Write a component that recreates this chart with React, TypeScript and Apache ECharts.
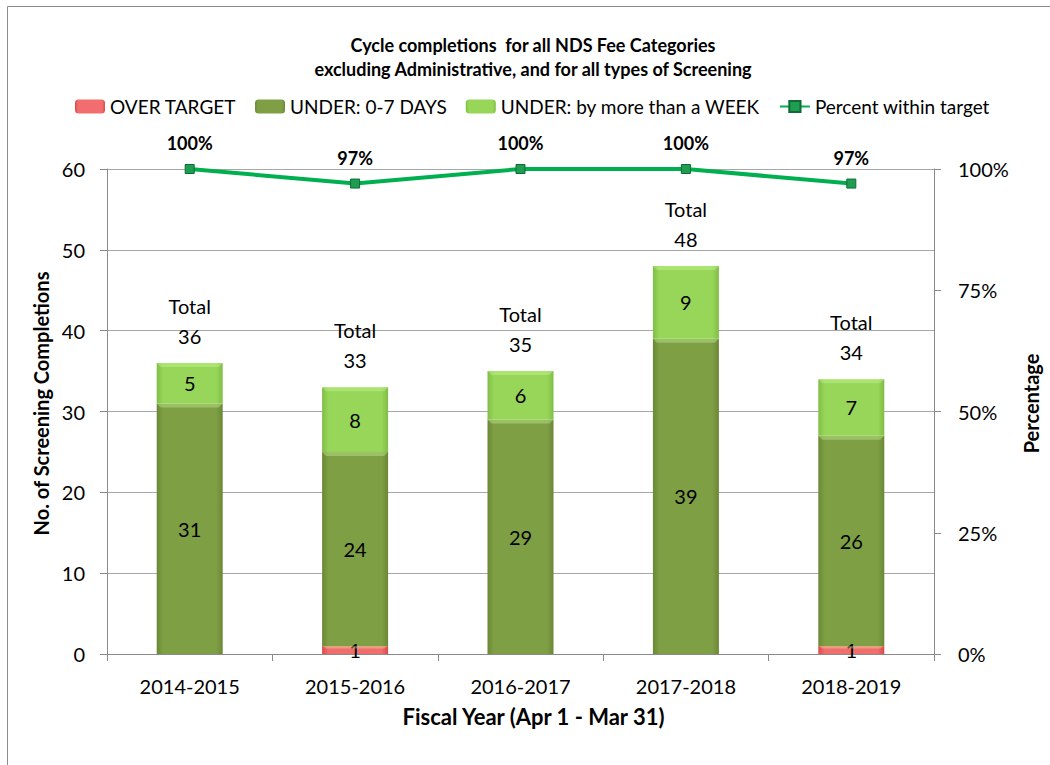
import React, { useEffect, useRef } from "react";
import * as echarts from "echarts";

const categories = ["2014-2015", "2015-2016", "2016-2017", "2017-2018", "2018-2019"];
const overTarget = [0, 1, 0, 0, 1];
const under07 = [31, 24, 29, 39, 26];
const underWeek = [5, 8, 6, 9, 7];
const pctWithin = [100, 97, 100, 100, 97];
const leftTicks = { min: 0, max: 60, interval: 10 };
const rightTicks = { min: 0, max: 100, interval: 25 };

const FONT = "Lato";
const BAR_W = 66;

function hGrad(edge: string, mid: string) {
  return new echarts.graphic.LinearGradient(0, 0, 1, 0, [
    { offset: 0, color: edge },
    { offset: 0.1, color: mid },
    { offset: 0.9, color: mid },
    { offset: 1, color: edge },
  ]);
}

export default function App() {
  const ref = useRef<HTMLDivElement>(null);
  useEffect(() => {
    document.body.style.margin = "0";
    const chart = echarts.init(ref.current!, null, { renderer: "svg" });
    const totals = categories.map((_, i) => overTarget[i] + under07[i] + underWeek[i]);
    // segment extents for the bevel overlay: [category, start, end]
    const segments: number[][] = [];
    categories.forEach((_, i) => {
      let base = 0;
      [overTarget[i], under07[i], underWeek[i]].forEach((v) => {
        if (v > 0) segments.push([i, base, base + v]);
        base += v;
      });
    });
    const segLabel = {
      show: true,
      position: "inside",
      color: "#000",
      fontFamily: FONT,
      fontSize: 20,
      formatter: (p: any) => (p.value ? String(p.value) : ""),
    };
    const barCommon = {
      type: "bar",
      stack: "s",
      barWidth: BAR_W,
      yAxisIndex: 0,
      label: segLabel,
    };
    chart.setOption({
      animation: false,
      textStyle: { fontFamily: FONT },
      graphic: [
        {
          type: "rect",
          shape: { x: 7.5, y: 6.5, width: 1100, height: 800 },
          style: { fill: "none", stroke: "#8c8c8c", lineWidth: 1 },
          silent: true,
        },
        {
          type: "text",
          x: 533,
          y: 45,
          style: {
            text: "Cycle completions  for all NDS Fee Categories",
            fontFamily: FONT,
            fontWeight: "bold",
            fontSize: 18,
            fill: "#000",
            align: "center",
            verticalAlign: "middle",
          },
        },
        {
          type: "text",
          x: 533,
          y: 69,
          style: {
            text: "excluding Administrative, and for all types of Screening",
            fontFamily: FONT,
            fontWeight: "bold",
            fontSize: 18,
            fill: "#000",
            align: "center",
            verticalAlign: "middle",
          },
        },
      ],
      legend: {
        top: 97,
        left: 75,
        padding: 0,
        itemWidth: 30,
        itemHeight: 14,
        itemGap: 19,
        textStyle: { fontFamily: FONT, fontSize: 19, color: "#000" },
        data: ["OVER TARGET", "UNDER: 0-7 DAYS", "UNDER: by more than a WEEK", "Percent within target"],
      },
      grid: { left: 107, right: 116, top: 169, bottom: 111 },
      xAxis: {
        type: "category",
        data: categories,
        axisLine: { lineStyle: { color: "#8a8a8a" } },
        axisTick: { show: true, length: 7, lineStyle: { color: "#8a8a8a" } },
        axisLabel: { color: "#000", fontFamily: FONT, fontSize: 20, margin: 22 },
        name: "Fiscal Year (Apr 1 - Mar 31)",
        nameLocation: "middle",
        nameGap: 51,
        nameTextStyle: { color: "#000", fontFamily: FONT, fontWeight: "bold", fontSize: 22, padding: [0, 0, 0, 26] },
      },
      yAxis: [
        {
          type: "value",
          ...leftTicks,
          axisLine: { show: true, lineStyle: { color: "#8a8a8a" } },
          axisTick: { show: true, length: 7, lineStyle: { color: "#8a8a8a" } },
          splitLine: { lineStyle: { color: "#a6a6a6" } },
          axisLabel: { color: "#000", fontFamily: FONT, fontSize: 20, margin: 22 },
          name: "No. of Screening Completions",
          nameLocation: "middle",
          nameRotate: 90,
          nameGap: 52,
          nameTextStyle: { color: "#000", fontFamily: FONT, fontWeight: "bold", fontSize: 20, padding: [0, 0, 0, 16] },
        },
        {
          type: "value",
          ...rightTicks,
          position: "right",
          axisLine: { show: true, lineStyle: { color: "#8a8a8a" } },
          axisTick: { show: true, length: 7, lineStyle: { color: "#8a8a8a" } },
          splitLine: { show: false },
          axisLabel: { color: "#000", fontFamily: FONT, fontSize: 20, margin: 24, formatter: "{value}%" },
          name: "Percentage",
          nameLocation: "middle",
          nameRotate: 90,
          nameGap: 87,
          nameTextStyle: { color: "#000", fontFamily: FONT, fontWeight: "bold", fontSize: 20, padding: [0, 0, 0, 16] },
        },
      ],
      series: [
        {
          ...barCommon,
          name: "OVER TARGET",
          data: overTarget,
          itemStyle: { color: hGrad("#d94a4a", "#f26e6e") },
        },
        {
          ...barCommon,
          name: "UNDER: 0-7 DAYS",
          data: under07,
          itemStyle: { color: hGrad("#6a8835", "#7f9f45") },
        },
        {
          ...barCommon,
          name: "UNDER: by more than a WEEK",
          data: underWeek,
          itemStyle: { color: hGrad("#80bd45", "#98d65a") },
        },
        {
          name: "bevel",
          type: "custom",
          yAxisIndex: 0,
          silent: true,
          z: 3,
          data: segments,
          renderItem: (params: any, api: any) => {
            const top = api.coord([api.value(0), api.value(2)]);
            const bot = api.coord([api.value(0), api.value(1)]);
            const x = top[0];
            const y = top[1];
            const h = Math.min(4, (bot[1] - y) / 3);
            const hw = BAR_W / 2;
            return {
              type: "polygon",
              shape: { points: [[x - hw, y], [x + hw, y], [x + hw - 4, y + h], [x - hw + 4, y + h]] },
              style: { fill: "rgba(210,255,160,0.35)" },
            };
          },
        },
        {
          name: "Total",
          type: "scatter",
          yAxisIndex: 0,
          data: totals,
          symbolSize: 0,
          silent: true,
          itemStyle: { opacity: 1 },
          label: {
            show: true,
            position: "top",
            distance: 12,
            color: "#000",
            fontFamily: FONT,
            fontSize: 20,
            lineHeight: 30,
            formatter: (p: any) => `Total\n${p.value}`,
          },
        },
        {
          name: "Percent within target",
          type: "line",
          yAxisIndex: 1,
          data: pctWithin,
          symbol: "rect",
          symbolSize: 9,
          z: 5,
          lineStyle: { color: "#00b050", width: 4 },
          itemStyle: { color: "#1f9e52", borderColor: "#0d6b33", borderWidth: 1 },
          label: {
            show: true,
            position: "top",
            distance: 12,
            color: "#000",
            fontFamily: FONT,
            fontWeight: "bold",
            fontSize: 18,
            formatter: "{c}%",
          },
        },
      ],
    });
    return () => chart.dispose();
  }, []);
  return <div ref={ref} style={{ width: 1050, height: 765 }} />;
}
